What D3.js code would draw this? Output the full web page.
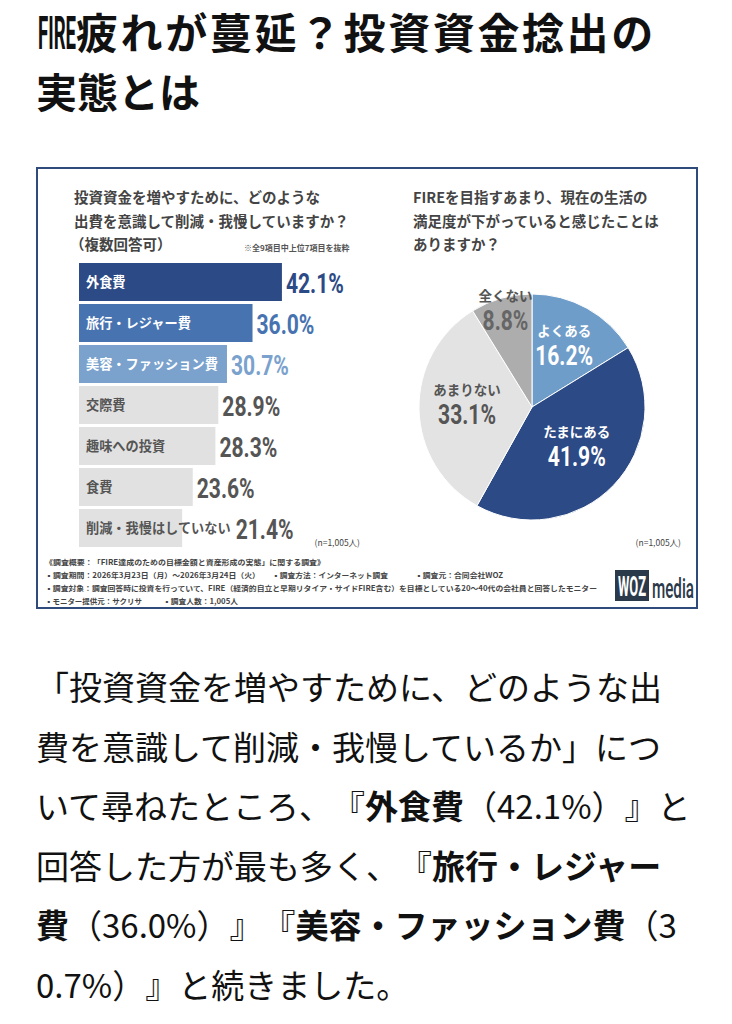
<!DOCTYPE html>
<html>
<head>
<meta charset="utf-8">
<script src="https://cdn.jsdelivr.net/npm/d3@7"></script>
<style>
html, body { margin: 0; padding: 0; background: #fff; }
svg { display: block; }
svg text { text-spacing-trim: space-all; }
</style>
</head>
<body>
<svg id="page" width="732" height="1024"></svg>
<script>
// ---- data ----
var titleParts = ["FIRE", "疲れが蔓延？投資資金捻出の", "実態とは"];

var barQuestion = ["投資資金を増やすために、どのような", "出費を意識して削減・我慢していますか？", "（複数回答可）"];
var barNote = "※全9項目中上位7項目を抜粋";
var barCategories = ["外食費", "旅行・レジャー費", "美容・ファッション費", "交際費", "趣味への投資", "食費", "削減・我慢はしていない"];
var barValues = [42.1, 36.0, 30.7, 28.9, 28.3, 23.6, 21.4];

var pieQuestion = ["FIREを目指すあまり、現在の生活の", "満足度が下がっていると感じたことは", "ありますか？"];
var pieCategories = ["よくある", "たまにある", "あまりない", "全くない"];
var pieValues = [16.2, 41.9, 33.1, 8.8];

var sampleNote = "(n=1,005人)";

var footerLines = [
  ["《調査概要：「FIRE達成のための目標金額と資産形成の実態」に関する調査》"],
  ["▪調査期間：2026年3月23日（月）～2026年3月24日（火）", "▪調査方法：インターネット調査", "▪調査元：合同会社WOZ"],
  ["▪調査対象：調査回答時に投資を行っていて、FIRE（経済的自立と早期リタイア・サイドFIRE含む）を目標としている20～40代の会社員と回答したモニター"],
  ["▪モニター提供元：サクリサ", "▪調査人数：1,005人"]
];

// *...* marks the bold words
var bodyLines = [
  "「投資資金を増やすために、どのような出",
  "費を意識して削減・我慢しているか」につ",
  "いて尋ねたところ、『*外食費*（42.1%）』と",
  "回答した方が最も多く、『*旅行・レジャー*",
  "*費*（36.0%）』『*美容・ファッション費*（3",
  "0.7%）』と続きました。"
];

// ---- styles / layout ----
var JP = "'Noto Sans CJK JP', 'Noto Sans', sans-serif";
var NUM = "Roboto, 'Noto Sans', sans-serif";
var navy = "#2c4a85";
var barColors = [navy, "#4773b1", "#7aa2cd", "#e1e1e1", "#e1e1e1", "#e1e1e1", "#e1e1e1"];
var barText = ["#fff", "#fff", "#fff", "#555", "#555", "#555", "#555"];
var valText = [navy, "#4773b1", "#7aa2cd", "#555", "#555", "#555", "#555"];
var pieColors = ["#6f9dc9", navy, "#e3e3e3", "#adadad"];
var pieNameColors = ["#fff", "#fff", "#555", "#555"];
var pieValColors = ["#fff", "#fff", "#555", "#666"];
var pieLabelR = [66, 62, 65, 97];

var svg = d3.select("#page");

// number text in a narrow DIN-like look
function numText(g, x, y, str, color, anchor, size) {
  return g.append("text")
    .attr("font-family", NUM)
    .attr("font-weight", 700)
    .attr("font-size", size || 27)
    .attr("fill", color)
    .attr("text-anchor", anchor || "start")
    .attr("transform", "translate(" + x + "," + y + ") scale(0.78,1)")
    .text(str);
}

// ---- page title ----
var fire = svg.append("text")
  .attr("font-family", NUM).attr("font-weight", 700).attr("font-size", 46)
  .attr("fill", "#111").text(titleParts[0]);
var fw = fire.node().getComputedTextLength();
fire.attr("transform", "translate(38,49) scale(" + (38 / fw) + ",1)");

svg.append("text")
  .attr("x", 76).attr("y", 49)
  .attr("letter-spacing", 2.6)
  .attr("font-family", JP).attr("font-weight", 700).attr("font-size", 42)
  .attr("fill", "#111")
  .text(titleParts[1]);
svg.append("text")
  .attr("x", 36).attr("y", 108)
  .attr("font-family", JP).attr("font-weight", 700).attr("font-size", 41)
  .attr("fill", "#111")
  .text(titleParts[2]);

// ---- chart frame ----
svg.append("rect")
  .attr("x", 37).attr("y", 168).attr("width", 660).attr("height", 440)
  .attr("fill", "#fff").attr("stroke", "#2f4b7c").attr("stroke-width", 2);

// ---- left: bar chart ----
var left = svg.append("g");
left.selectAll(".q").data(barQuestion).enter().append("text")
  .attr("class", "q")
  .attr("x", function(d, i) { return i == 2 ? 70 : 74; })
  .attr("y", function(d, i) { return 203 + i * 23.5; })
  .attr("font-family", JP).attr("font-weight", 700).attr("font-size", 14.5)
  .attr("fill", "#444")
  .text(function(d) { return d; });

left.append("text")
  .attr("x", 244).attr("y", 251)
  .attr("font-family", JP).attr("font-weight", 700).attr("font-size", 8)
  .attr("fill", "#555")
  .text(barNote);

var x = d3.scaleLinear().domain([0, 50]).range([79, 79 + 241]);
var y = d3.scaleBand().domain(barCategories).range([263, 547]).paddingInner(3 / 41).paddingOuter(0);

var rows = left.selectAll(".bar").data(barCategories).enter().append("g").attr("class", "bar");

rows.append("rect")
  .attr("x", x(0))
  .attr("y", function(d) { return y(d); })
  .attr("width", function(d, i) { return x(barValues[i]) - x(0); })
  .attr("height", y.bandwidth())
  .attr("fill", function(d, i) { return barColors[i]; });

rows.each(function(d, i) {
  var g = d3.select(this);
  var cy = y(d) + y.bandwidth() / 2;
  var lab = g.append("text")
    .attr("x", 86).attr("y", cy + 4.8)
    .attr("font-family", JP).attr("font-weight", 700).attr("font-size", 13.2)
    .attr("fill", barText[i])
    .text(d);
  var labEnd = 86 + lab.node().getComputedTextLength();
  var vx = Math.max(x(barValues[i]), labEnd + 1) + 4;
  numText(g, vx, cy + 10.5, barValues[i].toFixed(1) + "%", valText[i]);
});

left.append("text")
  .attr("x", 360).attr("y", 546).attr("text-anchor", "end")
  .attr("font-family", JP).attr("font-size", 8.5).attr("fill", "#444")
  .text(sampleNote);

// ---- right: pie chart ----
var right = svg.append("g");
right.selectAll(".q").data(pieQuestion).enter().append("text")
  .attr("class", "q")
  .attr("x", 413)
  .attr("y", function(d, i) { return 203 + i * 23.5; })
  .attr("font-family", JP).attr("font-weight", 700).attr("font-size", 14.5)
  .attr("fill", "#444")
  .text(function(d) { return d; });

var cx = 532, cy = 407, R = 113;
var pie = d3.pie().sort(null).value(function(d) { return d; });
var arcs = pie(pieValues);
var arc = d3.arc().innerRadius(0).outerRadius(R);

var pg = right.append("g").attr("transform", "translate(" + cx + "," + cy + ")");
pg.selectAll("path").data(arcs).enter().append("path")
  .attr("d", arc)
  .attr("fill", function(d, i) { return pieColors[i]; })
  .attr("stroke", "#fff").attr("stroke-width", 1);

arcs.forEach(function(a, i) {
  var c = d3.arc().innerRadius(pieLabelR[i]).outerRadius(pieLabelR[i]).centroid(a);
  pg.append("text")
    .attr("x", c[0]).attr("y", c[1] - 13)
    .attr("text-anchor", "middle")
    .attr("font-family", JP).attr("font-weight", 700).attr("font-size", 13.5)
    .attr("fill", pieNameColors[i])
    .text(pieCategories[i]);
  numText(pg, c[0], c[1] + 16, pieValues[i].toFixed(1) + "%", pieValColors[i], "middle");
});

right.append("text")
  .attr("x", 681).attr("y", 546).attr("text-anchor", "end")
  .attr("font-family", JP).attr("font-size", 8.5).attr("fill", "#444")
  .text(sampleNote);

// ---- footer notes ----
var footPos = [
  [[45, 325]],
  [[45, 260], [272, 388], [415, 503]],
  [[45, 597]],
  [[45, 142], [163, 238]]
];
var foot = svg.append("g");
footerLines.forEach(function(line, r) {
  line.forEach(function(s, k) {
    var p = footPos[r][k];
    foot.append("text")
      .attr("x", p[0]).attr("y", 565 + r * 13)
      .attr("textLength", p[1] - p[0]).attr("lengthAdjust", "spacingAndGlyphs")
      .attr("font-family", JP).attr("font-weight", 700).attr("font-size", 7.4)
      .attr("fill", "#444")
      .text(s);
  });
});

// ---- logo ----
var logo = svg.append("g");
logo.append("rect").attr("x", 615).attr("y", 570).attr("width", 34).attr("height", 31).attr("fill", "#2b3a4b");
var woz = logo.append("text")
  .attr("font-family", NUM).attr("font-weight", 700).attr("font-size", 27)
  .attr("fill", "#fff").attr("text-anchor", "middle").text("WOZ");
var ww = woz.node().getComputedTextLength();
woz.attr("transform", "translate(632,596) scale(" + (28 / ww) + ",1)");
var media = logo.append("text")
  .attr("font-family", NUM).attr("font-weight", 500).attr("font-size", 28)
  .attr("fill", "#2b3a4b").text("media");
var mw = media.node().getComputedTextLength();
media.attr("transform", "translate(652,598) scale(" + (42 / mw) + ",1)");

// ---- body text ----
var body = svg.append("g");
bodyLines.forEach(function(line, r) {
  var t = body.append("text")
    .attr("x", 36).attr("y", 700 + r * 59.5)
    .attr("font-family", JP).attr("font-size", 33).attr("fill", "#111");
  line.split("*").forEach(function(seg, k) {
    if (seg === "") return;
    t.append("tspan").attr("font-weight", k % 2 ? 700 : 400).text(seg);
  });
});
</script>
</body>
</html>
